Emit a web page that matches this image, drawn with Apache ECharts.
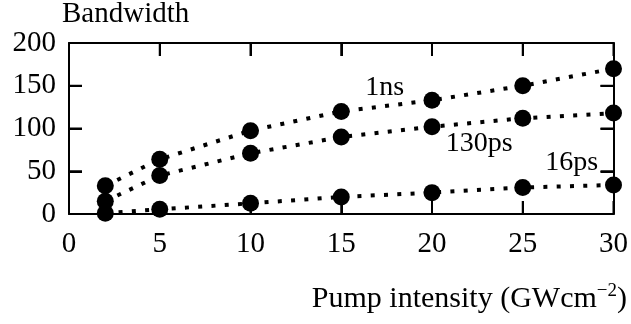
<!DOCTYPE html>
<html><head><meta charset="utf-8">
<script src="https://cdn.jsdelivr.net/npm/echarts@6/dist/echarts.min.js"></script>
<style>html,body{margin:0;padding:0;background:#fff}#c{width:631px;height:324px}</style>
</head><body><div id="c"></div>
<script>
const xValues = [2, 5, 10, 15, 20, 25, 30];
const ns1 = [33, 64, 97.5, 120, 133, 150, 170];
const ps130 = [15, 45, 71, 90, 102, 112, 118];
const ps16 = [1, 5.5, 12.5, 20, 25, 31, 34];
const seriesNames = ['1ns', '130ps', '16ps'];
const labelPos = [[17.4, 148], [22.6, 82], [27.7, 60]];
const xTicks = [0, 5, 10, 15, 20, 25, 30];
const yTicks = [0, 50, 100, 150, 200];

const FONT = 'Liberation Serif';
const X_MIN = 0, X_MAX = 30, Y_MIN = 0, Y_MAX = 200;
const TICK_LEN = 13;
const chart = echarts.init(document.getElementById('c'));
const pair = arr => xValues.map((x, i) => [x, arr[i]]);
const mk = (name, arr, lp) => ({
  name, type: 'line', data: pair(arr), symbol: 'circle', symbolSize: 17,
  itemStyle: {color: '#000'},
  lineStyle: {color: '#000', width: 4, type: [4, 9.3]},
  clip: false, z: 5,
  markPoint: {
    symbol: 'rect', symbolSize: 1, itemStyle: {color: 'transparent'},
    label: {show: true, formatter: name, color: '#000', fontFamily: FONT, fontSize: 28},
    data: [{coord: lp}]
  }
});
const tickLine = (p1, p2) => ({type: 'line', shape: {x1: p1[0], y1: p1[1], x2: p2[0], y2: p2[1]},
  style: {stroke: '#000', lineWidth: 2}});
const xTickSeries = {
  type: 'custom', data: xTicks.map(v => [v, Y_MIN]), clip: false, z: 3, silent: true,
  encode: {x: 0, y: 1},
  renderItem: (params, api) => {
    const b = api.coord([api.value(0), Y_MIN]);
    const t = api.coord([api.value(0), Y_MAX]);
    return {type: 'group', children: [
      tickLine(b, [b[0], b[1] - TICK_LEN]),
      tickLine(t, [t[0], t[1] + TICK_LEN])
    ]};
  }
};
const yTickSeries = {
  type: 'custom', data: yTicks.map(v => [X_MIN, v]), clip: false, z: 3, silent: true,
  encode: {x: 0, y: 1},
  renderItem: (params, api) => {
    const l = api.coord([X_MIN, api.value(1)]);
    const r = api.coord([X_MAX, api.value(1)]);
    return {type: 'group', children: [
      tickLine(l, [l[0] + TICK_LEN, l[1]]),
      tickLine(r, [r[0] - TICK_LEN, r[1]])
    ]};
  }
};
const axisCommon = () => ({
  type: 'value', min: X_MIN, interval: 5, max: X_MAX,
  axisLine: {show: true, onZero: false, lineStyle: {color: '#000', width: 2}},
  axisTick: {show: true, inside: true, length: TICK_LEN, lineStyle: {color: '#000', width: 2}},
  splitLine: {show: false}
});
chart.setOption({
  animation: false,
  title: [
    {text: 'Bandwidth', left: 62, top: 0, padding: 0,
     textStyle: {fontFamily: FONT, fontSize: 29, fontWeight: 'normal', color: '#000'}},
    {text: '{a|Pump intensity (GWcm}{s|−2}{a|)}', right: 4, top: 282, padding: 0,
     textStyle: {fontFamily: FONT, fontWeight: 'normal',
       rich: {a: {fontFamily: FONT, fontSize: 30, fontWeight: 'normal', color: '#000'},
              s: {fontFamily: FONT, fontSize: 19, fontWeight: 'normal', color: '#000', verticalAlign: 'bottom', padding: [0, 0, 16, 0]}}}}
  ],
  grid: {left: 69, right: 13, top: 43, bottom: 110},
  xAxis: [
    Object.assign(axisCommon(), {
      position: 'bottom',
      axisLabel: {show: true, color: '#000', fontFamily: FONT, fontSize: 29, margin: 16,
        formatter: v => xTicks.includes(v) ? String(v) : ''}
    }),
    Object.assign(axisCommon(), {position: 'top', axisLabel: {show: false}})
  ],
  yAxis: [
    Object.assign(axisCommon(), {
      min: Y_MIN, max: Y_MAX, interval: 50, position: 'left',
      axisLabel: {show: true, color: '#000', fontFamily: FONT, fontSize: 29, margin: 13,
        formatter: v => yTicks.includes(v) ? String(v) : ''}
    }),
    Object.assign(axisCommon(), {min: Y_MIN, max: Y_MAX, interval: 50, position: 'right', axisLabel: {show: false}})
  ],
  series: [xTickSeries, yTickSeries,
    mk(seriesNames[0], ns1, labelPos[0]), mk(seriesNames[1], ps130, labelPos[1]), mk(seriesNames[2], ps16, labelPos[2])]
});
</script></body></html>
